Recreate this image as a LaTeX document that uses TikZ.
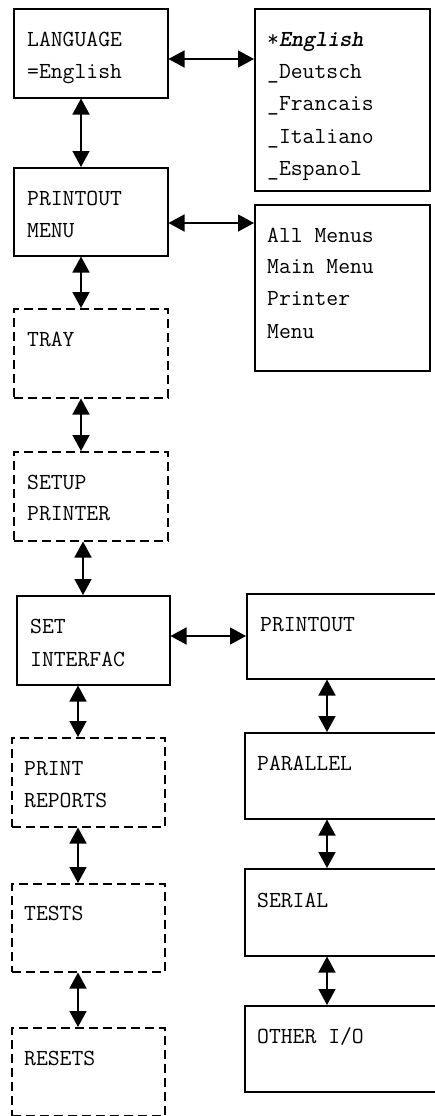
\documentclass[tikz,border=0pt]{standalone}
\usepackage{fontspec}
\usetikzlibrary{arrows.meta}
\begin{document}
\begin{tikzpicture}[x=1bp,y=-1bp,
  box/.style={draw, line width=1.5bp, inner sep=0pt, anchor=north west},
  dbox/.style={box, dash pattern=on 9bp off 5bp},
  txt/.style={font=\ttfamily\fontsize{23bp}{32bp}\selectfont, anchor=base west, inner sep=0pt},
  dar/.style={line width=1.5bp, {Triangle[length=16bp,width=17bp]}-{Triangle[length=16bp,width=17bp]}}]
\clip (0,0) rectangle (435,1116);

% left column
\node[box,  minimum width=154bp, minimum height=89bp] (b1)  at (13,8) {};
\node[box,  minimum width=154bp, minimum height=88bp] (b3)  at (13,167) {};
\node[dbox, minimum width=154bp, minimum height=89bp] (b5)  at (13,308) {};
\node[dbox, minimum width=154bp, minimum height=89bp] (b6)  at (13,451) {};
\node[box,  minimum width=153bp, minimum height=89bp] (b7)  at (16,595) {};
\node[dbox, minimum width=153bp, minimum height=89bp] (b9)  at (11,737) {};
\node[dbox, minimum width=153bp, minimum height=88bp] (b11) at (11,883) {};
\node[dbox, minimum width=153bp, minimum height=88bp] (b13) at (11,1027) {};

% right column
\node[box, minimum width=175bp, minimum height=182bp] (b2)  at (254,8) {};
\node[box, minimum width=175bp, minimum height=166bp] (b4)  at (254,204) {};
\node[box, minimum width=200bp, minimum height=85bp]  (b8)  at (246,593) {};
\node[box, minimum width=200bp, minimum height=86bp]  (b10) at (244,732) {};
\node[box, minimum width=200bp, minimum height=87bp]  (b12) at (244,868) {};
\node[box, minimum width=200bp, minimum height=86bp]  (b14) at (244,1005) {};

% labels
\node[txt] (t1a) at (27,46) {LANGUAGE};
\node[txt] (t1b) at (27,78) {=English};
\node[txt] (t2a) at (267,46) {*\textbf{\textit{English}}};
\node[txt] (t2b) at (267,78) {\_Deutsch};
\node[txt] (t2c) at (267,110) {\_Francais};
\node[txt] (t2d) at (267,143) {\_Italiano};
\node[txt] (t2e) at (267,175) {\_Espanol};
\node[txt] (t3a) at (27,205) {PRINTOUT};
\node[txt] (t3b) at (27,237) {MENU};
\node[txt] (t4a) at (267,242) {All Menus};
\node[txt] (t4b) at (267,273) {Main Menu};
\node[txt] (t4c) at (267,305) {Printer};
\node[txt] (t4d) at (267,338) {Menu};
\node[txt] (t5)  at (27,346) {TRAY};
\node[txt] (t6a) at (27,489) {SETUP};
\node[txt] (t6b) at (27,520) {PRINTER};
\node[txt] (t7a) at (30,633) {SET};
\node[txt] (t7b) at (30,666) {INTERFAC};
\node[txt] (t8)  at (260,631) {PRINTOUT};
\node[txt] (t9a) at (24,775) {PRINT};
\node[txt] (t9b) at (24,807) {REPORTS};
\node[txt] (t10) at (257,770) {PARALLEL};
\node[txt] (t11) at (24,920) {TESTS};
\node[txt] (t12) at (257,907) {SERIAL};
\node[txt] (t13) at (24,1065) {RESETS};
\node[txt] (t14) at (257,1043) {OTHER I/O};

% horizontal connectors
\draw[dar] (b1.east |- 0,59)  -- (b2.west |- 0,59);
\draw[dar] (b3.east |- 0,223) -- (b4.west |- 0,223);
\draw[dar] (b7.east |- 0,636) -- (b8.west |- 0,636);

% vertical connectors
\draw[dar] (b1.south -| 81,0)  -- (b3.north -| 81,0);
\draw[dar] (b3.south -| 81,0)  -- (b5.north -| 81,0);
\draw[dar] (b5.south -| 81,0)  -- (b6.north -| 81,0);
\draw[dar] (b6.south -| 83,0)  -- (b7.north -| 83,0);
\draw[dar] (b7.south -| 78,0)  -- (b9.north -| 78,0);
\draw[dar] (b9.south -| 78,0)  -- (b11.north -| 78,0);
\draw[dar] (b11.south -| 78,0) -- (b13.north -| 78,0);
\draw[dar] (b8.south -| 327,0)  -- (b10.north -| 327,0);
\draw[dar] (b10.south -| 327,0) -- (b12.north -| 327,0);
\draw[dar] (b12.south -| 327,0) -- (b14.north -| 327,0);
\end{tikzpicture}
\end{document}
